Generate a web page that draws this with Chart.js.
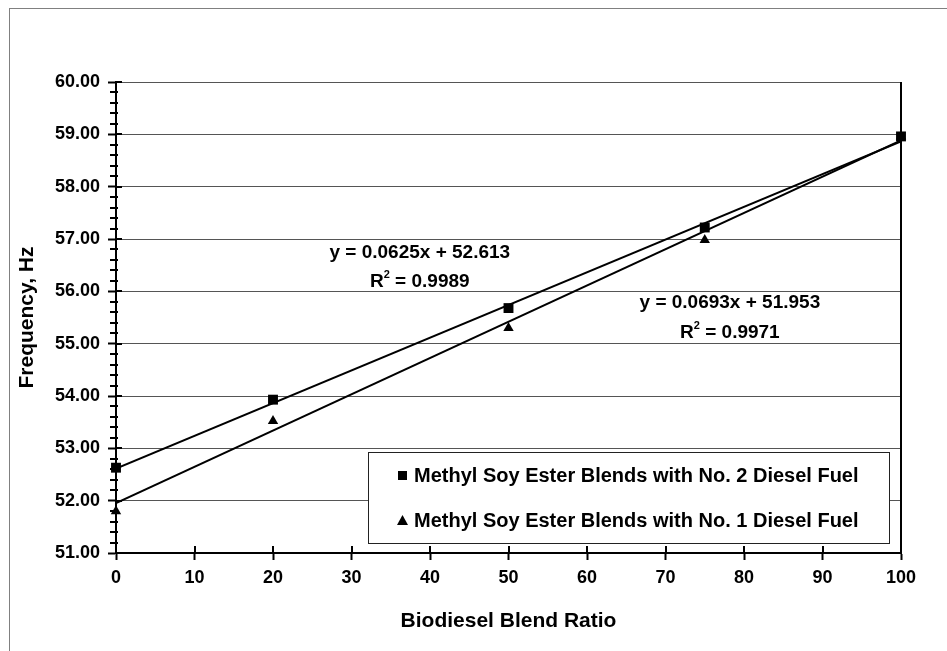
<!DOCTYPE html>
<html>
<head>
<meta charset="utf-8">
<script src="https://cdn.jsdelivr.net/npm/chart.js@4.4.0/dist/chart.umd.min.js"></script>
<style>
html, body { margin: 0; padding: 0; background: #fff; }
#wrap { width: 947px; height: 651px; }
</style>
</head>
<body>
<div id="wrap"><canvas id="myChart" width="947" height="651"></canvas></div>
<script>
// blend ratio (x) and measured frequency (y)
var blendRatio = [0, 20, 50, 75, 100];
var no2Freq = [52.63, 53.93, 55.68, 57.22, 58.96];
var no1Freq = [51.80, 53.52, 55.30, 56.98, 58.96];

// linear trendlines, end points
var trendX = [0, 100];
var no2Trend = [52.613, 58.863];
var no1Trend = [51.953, 58.883];

var no2Label = 'Methyl Soy Ester Blends with No. 2 Diesel Fuel';
var no1Label = 'Methyl Soy Ester Blends with No. 1 Diesel Fuel';
var no2Eq = ['y = 0.0625x + 52.613', ' = 0.9989'];
var no1Eq = ['y = 0.0693x + 51.953', ' = 0.9971'];

var FONT = "'Liberation Sans', Arial, sans-serif";

function toPoints(xs, ys) {
    var pts = [];
    for (var i = 0; i < xs.length; i++) {
        pts.push({x: xs[i], y: ys[i]});
    }
    return pts;
}

function drawEq(ctx, lines, cx, y1, y2) {
    ctx.fillStyle = '#000';
    ctx.textBaseline = 'middle';
    ctx.textAlign = 'left';
    ctx.font = 'bold 19px ' + FONT;
    var w1 = ctx.measureText(lines[0]).width;
    ctx.fillText(lines[0], cx - w1 / 2, y1);
    var wR = ctx.measureText('R').width;
    var wRest = ctx.measureText(lines[1]).width;
    ctx.font = 'bold 11px ' + FONT;
    var w2 = ctx.measureText('2').width;
    var x0 = cx - (wR + w2 + wRest) / 2;
    ctx.font = 'bold 19px ' + FONT;
    ctx.fillText('R', x0, y2);
    ctx.fillText(lines[1], x0 + wR + w2, y2);
    ctx.font = 'bold 11px ' + FONT;
    ctx.fillText('2', x0 + wR, y2 - 7);
}

var extras = {
    id: 'extras',
    beforeDraw: function(chart) {
        var ctx = chart.ctx;
        ctx.save();
        ctx.fillStyle = '#fff';
        ctx.fillRect(0, 0, chart.width, chart.height);
        ctx.strokeStyle = '#808080';
        ctx.lineWidth = 1;
        ctx.strokeRect(9.5, 8.5, chart.width + 20, chart.height + 20);
        ctx.restore();
    },
    afterDraw: function(chart) {
        var ctx = chart.ctx;
        var a = chart.chartArea;
        var xs = chart.scales.x;
        var ys = chart.scales.y;
        ctx.save();
        ctx.strokeStyle = '#000';

        // right edge of plot
        ctx.lineWidth = 2;
        ctx.beginPath();
        ctx.moveTo(a.right, a.top);
        ctx.lineTo(a.right, a.bottom + 1);
        ctx.stroke();

        // x ticks cross the axis
        xs.ticks.forEach(function(t) {
            var px = Math.round(xs.getPixelForValue(t.value));
            ctx.beginPath();
            ctx.moveTo(px, a.bottom);
            ctx.lineTo(px, a.bottom - 7);
            ctx.stroke();
        });

        // y major ticks inner part + minor ticks
        ys.ticks.forEach(function(t) {
            var py = Math.round(ys.getPixelForValue(t.value));
            ctx.beginPath();
            ctx.moveTo(a.left, py);
            ctx.lineTo(a.left + 6, py);
            ctx.stroke();
        });
        ctx.lineWidth = 2;
        for (var k = 1; k < 45; k++) {
            if (k % 5 === 0) continue;
            var py = Math.round(ys.getPixelForValue(51 + k * 0.2));
            ctx.beginPath();
            ctx.moveTo(a.left - 6, py);
            ctx.lineTo(a.left + 2, py);
            ctx.stroke();
        }

        // equations
        drawEq(ctx, no2Eq, xs.getPixelForValue(38.7), ys.getPixelForValue(56.73), ys.getPixelForValue(56.18));
        drawEq(ctx, no1Eq, xs.getPixelForValue(78.2), ys.getPixelForValue(55.78), ys.getPixelForValue(55.20));

        // legend box
        ctx.fillStyle = '#fff';
        ctx.fillRect(368, 452, 521, 91);
        ctx.strokeStyle = '#222';
        ctx.lineWidth = 1;
        ctx.strokeRect(368.5, 452.5, 521, 91);

        ctx.fillStyle = '#000';
        ctx.fillRect(398, 471, 9, 9);
        ctx.beginPath();
        ctx.moveTo(402.5, 515);
        ctx.lineTo(408, 525);
        ctx.lineTo(397, 525);
        ctx.closePath();
        ctx.fill();

        ctx.font = 'bold 20px ' + FONT;
        ctx.textBaseline = 'middle';
        ctx.textAlign = 'left';
        ctx.fillText(no2Label, 414, 476);
        ctx.fillText(no1Label, 414, 521);
        ctx.restore();
    }
};

var ctx = document.getElementById('myChart').getContext('2d');
var myChart = new Chart(ctx, {
    type: 'scatter',
    data: {
        datasets: [
            {
                label: no2Label,
                data: toPoints(blendRatio, no2Freq),
                pointStyle: 'rect',
                pointRadius: 7,
                backgroundColor: '#000',
                borderColor: '#000',
                borderWidth: 0,
                showLine: false,
                clip: false
            },
            {
                label: no1Label,
                data: toPoints(blendRatio, no1Freq),
                pointStyle: 'triangle',
                pointRadius: 6,
                backgroundColor: '#000',
                borderColor: '#000',
                borderWidth: 0,
                showLine: false,
                clip: false
            },
            {
                label: 'trend 2',
                data: toPoints(trendX, no2Trend),
                showLine: true,
                pointRadius: 0,
                borderColor: '#000',
                borderWidth: 2
            },
            {
                label: 'trend 1',
                data: toPoints(trendX, no1Trend),
                showLine: true,
                pointRadius: 0,
                borderColor: '#000',
                borderWidth: 2
            }
        ]
    },
    options: {
        responsive: false,
        animation: false,
        layout: {
            padding: {left: 10, top: 82, right: 46, bottom: 0}
        },
        plugins: {
            legend: {display: false},
            tooltip: {enabled: false}
        },
        scales: {
            x: {
                type: 'linear',
                min: 0,
                max: 100,
                ticks: {
                    stepSize: 10,
                    padding: 7,
                    color: '#000',
                    font: {family: FONT, size: 18, weight: 'bold'}
                },
                grid: {
                    drawOnChartArea: false,
                    tickLength: 7,
                    tickColor: '#000',
                    tickWidth: 2
                },
                border: {color: '#000', width: 2},
                title: {
                    display: true,
                    text: 'Biodiesel Blend Ratio',
                    color: '#000',
                    font: {family: FONT, size: 21, weight: 'bold'},
                    padding: {top: 0, bottom: 17}
                },
                afterFit: function(s) { s.height = 98; }
            },
            y: {
                min: 51,
                max: 60,
                ticks: {
                    stepSize: 1,
                    padding: 8,
                    color: '#000',
                    font: {family: FONT, size: 18, weight: 'bold'},
                    callback: function(v) { return v.toFixed(2); }
                },
                grid: {
                    color: '#555',
                    lineWidth: 1,
                    tickLength: 8,
                    tickColor: '#000',
                    tickWidth: 2
                },
                border: {color: '#000', width: 2},
                title: {
                    display: true,
                    text: 'Frequency, Hz',
                    color: '#000',
                    font: {family: FONT, size: 21, weight: 'bold'},
                    padding: {top: 5, bottom: 0}
                },
                afterFit: function(s) { s.width = 106; }
            }
        }
    },
    plugins: [extras]
});
</script>
</body>
</html>
